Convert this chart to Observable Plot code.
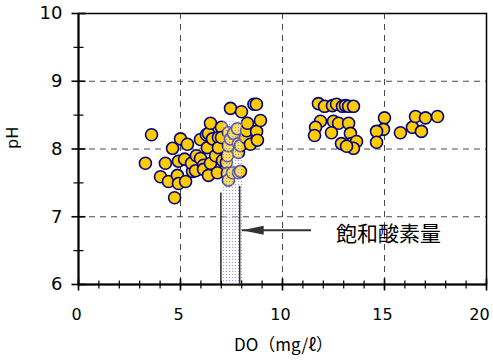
<!DOCTYPE html>
<html><head><meta charset="utf-8">
<script src="https://cdn.jsdelivr.net/npm/d3@7"></script>
<script src="https://cdn.jsdelivr.net/npm/@observablehq/plot@0.6"></script>
<style>body{margin:0;background:#fff}</style>
</head><body><div id="chart"></div>
<script>
// measured data: DO (mg/ℓ) and pH
const doVals = [3.28,3.58,4.02,4.26,4.41,4.61,4.71,4.85,4.90,4.90,5.00,5.20,5.25,5.34,5.59,5.54,5.74,5.78,5.98,5.98,6.13,6.13,6.27,6.32,6.37,6.37,6.47,6.47,6.57,6.72,6.81,6.86,6.86,7.01,7.01,7.06,7.25,7.30,7.30,7.35,7.35,7.35,7.45,7.45,7.55,7.60,7.79,7.84,7.84,7.84,7.94,7.94,7.99,8.19,8.24,8.28,8.43,8.60,8.72,8.73,8.77,8.92,
  11.76,12.06,12.45,12.65,12.94,13.09,13.24,13.48,11.86,11.62,11.57,12.50,12.75,12.40,13.24,13.33,13.38,12.89,13.63,13.48,13.14,15.00,14.95,14.61,14.61,15.78,16.37,16.81,16.52,17.01,17.60];
const phVals = [7.79,8.21,7.59,7.79,7.52,8.01,7.28,7.61,7.82,7.49,8.15,7.85,7.52,8.07,7.67,7.79,7.68,7.90,8.14,7.86,7.76,7.70,8.21,8.02,8.23,7.61,8.38,7.79,8.15,7.90,7.65,8.17,8.02,8.32,8.17,7.83,7.80,7.90,7.64,8.24,8.05,7.54,8.60,8.15,7.65,8.23,8.30,8.08,7.95,7.65,8.05,7.67,8.55,8.17,8.27,8.38,8.07,8.66,8.66,8.26,8.13,8.42,
  8.67,8.63,8.64,8.66,8.63,8.64,8.63,8.63,8.41,8.32,8.20,8.41,8.38,8.24,8.38,8.23,8.08,8.08,8.11,8.01,8.04,8.46,8.29,8.26,8.10,8.24,8.32,8.26,8.48,8.46,8.48];

// saturated oxygen band
const satBand = [{x1: 7.09, x2: 8.05, y1: 6, y2: 8.4}];
const satLines = [{x: 6.98, y1: 6, y2: 7.35}, {x: 7.9, y1: 5.97, y2: 7.45}];
const arrowData = [{x1: 11.4, x2: 8.0, y: 6.8}];
const noteText = [{x: 12.62, y: 6.74, label: "飽和酸素量"}];

const xMajorInner = [0, 5, 10, 15];
const xMajorLast = [20];
const xMajor = [0, 5, 10, 15, 20];
const xMinor = d3.range(0, 21, 1);
const yMajor = [6, 7, 8, 9, 10];
const yMinor = [6.5, 7.5, 8.5, 9.5];
const xGrid = [5, 10, 15];
const yGrid = [7, 8, 9];

const points = doVals.map((d, i) => ({do: d, ph: phVals[i]}));

const vtick = {draw(ctx, size) { const r = Math.sqrt(size / Math.PI); ctx.moveTo(0, -r); ctx.lineTo(0, r); }};
const htick = {draw(ctx, size) { const r = Math.sqrt(size / Math.PI); ctx.moveTo(-r, 0); ctx.lineTo(r, 0); }};

const plot = Plot.plot({
  width: 493, height: 361,
  marginLeft: 78, marginRight: 7, marginTop: 13, marginBottom: 77,
  x: {domain: [0, 20]},
  y: {domain: [6, 10]},
  style: {fontFamily: "DejaVu Sans", fontSize: "16px", color: "black", background: "white"},
  marks: [
    Plot.gridX(xGrid, {stroke: "#4a4a4a", strokeOpacity: 1, strokeDasharray: "6,5", strokeWidth: 1}),
    Plot.gridY(yGrid, {stroke: "#4a4a4a", strokeOpacity: 1, strokeDasharray: "6,5", strokeWidth: 1}),
    Plot.frame({stroke: "black", strokeWidth: 1.5}),
    Plot.ruleX([0], {stroke: "black", strokeWidth: 2}),
    Plot.ruleY([6], {stroke: "black", strokeWidth: 2}),
    Plot.dot(points, {x: "do", y: "ph", r: 6, fill: "#FFCC00", stroke: "#000080", strokeWidth: 1.6}),
    Plot.rect(satBand, {x1: "x1", x2: "x2", y1: "y1", y2: "y2", fill: "url(#satdots)"}),
    Plot.ruleX(satLines, {x: "x", y1: "y1", y2: "y2", stroke: "#333", strokeWidth: 1.6}),
    Plot.link(arrowData, {x1: "x1", x2: "x2", y1: "y", y2: "y", stroke: "#333", strokeWidth: 2, className: "arrowlink"}),
    Plot.text(noteText, {x: "x", y: "y", text: "label", textAnchor: "start", fontSize: 21, fontFamily: "Noto Sans CJK JP"}),
    Plot.dot(xMinor, {x: d => d, y: 6, symbol: vtick, r: 4, fill: "none", stroke: "black", strokeWidth: 1.2}),
    Plot.dot(xMajor, {x: d => d, y: 6, symbol: vtick, r: 6, fill: "none", stroke: "black", strokeWidth: 1.6}),
    Plot.dot(yMinor, {x: 0, y: d => d, symbol: htick, r: 5, fill: "none", stroke: "black", strokeWidth: 1.2}),
    Plot.dot(yMajor, {x: 0, y: d => d, symbol: htick, r: 7, fill: "none", stroke: "black", strokeWidth: 1.6}),
    Plot.axisX({ticks: xMajorInner, tickSize: 0, tickPadding: 24, label: null, tickFormat: d3.format("d"), fontSize: 16, dx: -2}),
    Plot.axisX({ticks: xMajorLast, tickSize: 0, tickPadding: 24, label: null, tickFormat: d3.format("d"), fontSize: 16, dx: -7}),
    Plot.axisY({ticks: yMajor, tickSize: 0, tickPadding: 16, label: null, tickFormat: d3.format("d"), fontSize: 18}),
    Plot.text(["DO（mg/ℓ）"], {frameAnchor: "bottom", dy: 66, dx: 1, fontSize: 17, fontFamily: "Noto Sans CJK JP"}),
    Plot.text(["pH"], {frameAnchor: "left", dx: -66, rotate: -90, fontSize: 16, fontFamily: "DejaVu Sans"})
  ]
});

// pattern for the dotted band and filled arrow head
const ns = "http://www.w3.org/2000/svg";
const defs = document.createElementNS(ns, "defs");
defs.innerHTML = `
  <pattern id="satdots" width="3" height="3" patternUnits="userSpaceOnUse">
    <rect width="3" height="3" fill="white" fill-opacity="0.35"></rect>
    <circle cx="1.5" cy="1.5" r="0.6" fill="#8a8ad8"></circle>
  </pattern>
  <marker id="ahead" markerUnits="userSpaceOnUse" viewBox="0 0 22 10" refX="22" refY="5" markerWidth="22" markerHeight="10" orient="auto">
    <path d="M0,0.5L22,5L0,9.5Z" fill="#333"></path>
  </marker>`;
plot.insertBefore(defs, plot.firstChild);
plot.querySelectorAll(".arrowlink path").forEach(p => p.setAttribute("marker-end", "url(#ahead)"));
document.getElementById("chart").appendChild(plot);
</script>
</body></html>
